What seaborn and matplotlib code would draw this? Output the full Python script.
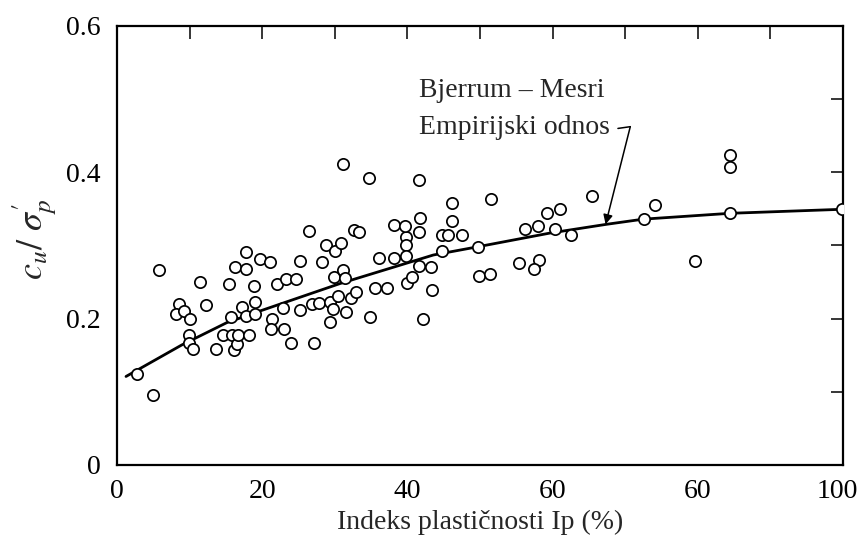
import matplotlib
matplotlib.use("Agg")
import matplotlib.pyplot as plt
import matplotlib.transforms as mtransforms
import numpy as np
import pandas as pd
import seaborn as sns

# Measured undrained strength ratio against plasticity index
ip = [2.71, 4.92, 5.74, 8.54, 8.13, 9.23, 10.01, 9.88, 9.96, 10.51,
      11.47, 12.30, 13.64, 14.56, 15.39, 15.70, 15.80, 16.07, 16.49, 16.71,
      16.29, 17.26, 17.77, 17.77, 17.77, 18.18, 18.91, 18.97, 18.97, 19.70,
      21.03, 21.35, 21.25, 22.04, 22.87, 22.96, 23.24, 23.93, 24.66, 25.21,
      25.25, 26.49, 26.86, 27.18, 27.87, 28.20, 28.75, 29.30, 29.34, 29.79,
      29.89, 30.03, 30.44, 30.90, 31.17, 31.40, 31.50, 32.23, 32.92, 32.60,
      33.37, 34.89, 35.54, 36.05, 37.19, 38.20, 39.77, 39.77, 39.81, 39.99,
      40.59, 41.64, 41.64, 42.11, 43.29, 43.35, 44.72, 44.72, 45.63, 47.48,
      49.68, 49.93, 31.17, 34.67, 41.60, 46.14, 38.18, 39.63, 41.67, 46.21,
      51.54, 51.35, 55.37, 56.20, 57.95, 59.19, 60.99, 60.30, 62.53, 58.06,
      57.40, 65.47, 74.15, 72.55, 84.46, 84.46, 84.39, 99.86, 79.64]
ratio = [0.125, 0.096, 0.266, 0.220, 0.206, 0.210, 0.200, 0.177, 0.167, 0.158,
         0.250, 0.218, 0.158, 0.177, 0.248, 0.202, 0.177, 0.157, 0.166, 0.177,
         0.270, 0.216, 0.204, 0.268, 0.291, 0.177, 0.244, 0.206, 0.223, 0.281,
         0.277, 0.200, 0.186, 0.248, 0.215, 0.186, 0.254, 0.167, 0.254, 0.279,
         0.212, 0.320, 0.220, 0.167, 0.221, 0.277, 0.300, 0.223, 0.196, 0.213,
         0.257, 0.293, 0.231, 0.304, 0.267, 0.255, 0.209, 0.228, 0.236, 0.321,
         0.318, 0.202, 0.242, 0.283, 0.242, 0.283, 0.311, 0.301, 0.286, 0.249,
         0.257, 0.272, 0.319, 0.199, 0.271, 0.239, 0.293, 0.314, 0.314, 0.315,
         0.298, 0.258, 0.411, 0.392, 0.390, 0.358, 0.328, 0.327, 0.337, 0.334,
         0.364, 0.261, 0.276, 0.323, 0.326, 0.344, 0.350, 0.322, 0.314, 0.280,
         0.268, 0.368, 0.356, 0.336, 0.424, 0.407, 0.345, 0.350, 0.279]

# Bjerrum - Mesri empirical relation
curve_ip = [1.24, 8.91, 15.11, 19.70, 30.72, 43.57, 49.55, 59.64, 67.45,
            72.49, 84.44, 99.90]
curve_ratio = [0.121, 0.164, 0.1945, 0.2105, 0.248, 0.287, 0.298, 0.317,
               0.329, 0.336, 0.344, 0.3495]

x_ticks = [0, 10, 20, 30, 40, 50, 60, 70, 80, 90, 100]
x_tick_labels = ["0", "", "20", "", "40", "", "60", "", "60", "", "100"]
y_ticks = [0, 0.1, 0.2, 0.3, 0.4, 0.5, 0.6]
y_tick_labels = ["0", "", "0.2", "", "0.4", "", "0.6"]

x_title = "Indeks plastičnosti Ip (%)"
y_title = r"$c_u/\ \sigma^{\prime}_{p}$"
note_lines = ["Bjerrum – Mesri", "Empirijski odnos"]

sns.set_theme(style="white")
plt.rcParams["font.family"] = ["Liberation Serif", "DejaVu Serif"]
plt.rcParams["mathtext.fontset"] = "stix"

W, H = 860, 538
fig = plt.figure(figsize=(W / 100, H / 100), dpi=100)
fig.patch.set_facecolor("white")
ax = fig.add_axes([117 / W, 1 - 465 / H, (843 - 117) / W, (465 - 26) / H])
ax.set_facecolor("white")

pts = pd.DataFrame({"ip": ip, "ratio": ratio})
fit = pd.DataFrame({"ip": curve_ip, "ratio": curve_ratio})

sns.lineplot(data=fit, x="ip", y="ratio", color="black", linewidth=2.0,
             estimator=None, ax=ax, zorder=2)
sns.scatterplot(data=pts, x="ip", y="ratio", s=66, facecolor="white",
                edgecolor="black", linewidth=1.25, ax=ax, zorder=3)

ax.set_xlim(0, 100)
ax.set_ylim(0, 0.6)
ax.set_xticks(x_ticks)
ax.set_xticklabels(x_tick_labels)
ax.set_yticks(y_ticks)
ax.set_yticklabels(y_tick_labels)
ax.tick_params(direction="in", top=True, right=True, length=9, width=1.1,
               labelsize=20, colors="black")
ax.tick_params(axis="x", pad=10)
ax.tick_params(axis="y", pad=12)
for sp in ax.spines.values():
    sp.set_linewidth(1.6)
    sp.set_color("black")
ax.set_xlabel("")
ax.set_ylabel("")

# keep the rightmost tick label inside the canvas
last = ax.get_xticklabels()[-1]
last.set_transform(last.get_transform() +
                   mtransforms.ScaledTranslation(-4 / 72, 0, fig.dpi_scale_trans))

fig.text(480 / W, 1 - 522 / H, x_title, ha="center", va="center", fontsize=20)
fig.text(35 / W, 1 - 240 / H, y_title, ha="center", va="center",
         rotation=90, fontsize=26)

ax.text(41.6, 0.5125, note_lines[0], ha="left", va="center", fontsize=20)
ax.text(41.6, 0.4606, note_lines[1], ha="left", va="center", fontsize=20)
ax.plot([69.0, 70.7], [0.460, 0.4624], color="black", linewidth=1.1)
ax.annotate("", xy=(67.3, 0.329), xytext=(70.7, 0.4624),
            arrowprops=dict(arrowstyle="-|>", color="black", lw=1.1,
                            mutation_scale=14, shrinkA=0, shrinkB=0))

fig.savefig("out.png", dpi=100, facecolor="white")
